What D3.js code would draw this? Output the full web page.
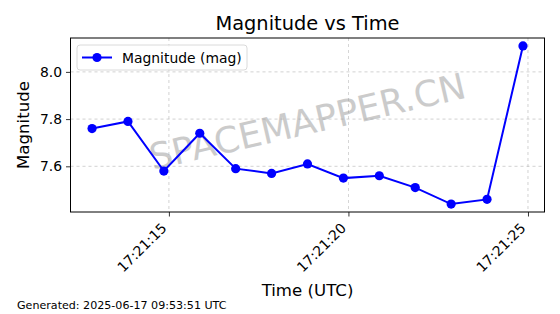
<!doctype html>
<html>
<head>
<meta charset="utf-8">
<title>Magnitude vs Time</title>
<style>
  body { margin: 0; background: #fff; }
  text { font-family: "DejaVu Sans", sans-serif; }
</style>
</head>
<body>
<script src="https://cdn.jsdelivr.net/npm/d3@7"></script>
<script>
// data
var times = ["17:21:12.86", "17:21:13.86", "17:21:14.86", "17:21:15.86", "17:21:16.86",
             "17:21:17.86", "17:21:18.86", "17:21:19.86", "17:21:20.86", "17:21:21.86",
             "17:21:22.86", "17:21:23.86", "17:21:24.86"];
var magnitudes = [7.76, 7.79, 7.58, 7.74, 7.59, 7.57, 7.61, 7.55, 7.56, 7.51, 7.44, 7.46, 8.11];
var yTicks = [7.6, 7.8, 8.0];
var xTicks = ["17:21:15", "17:21:20", "17:21:25"];

var w = 560, h = 314;
var margin = {top: 38, right: 15.5, bottom: 102, left: 70.5};

var parseTime = d3.utcParse("%H:%M:%S.%L");
var parseTick = d3.utcParse("%H:%M:%S");
var data = times.map(function(t, i) {
  return {t: parseTime(t + "0"), v: magnitudes[i]};
});

var svg = d3.select("body").append("svg")
  .attr("width", w)
  .attr("height", h);

// matplotlib style 5% margins
var tExt = d3.extent(data, function(d) { return +d.t; });
var tPad = (tExt[1] - tExt[0]) * 0.05;
var vExt = d3.extent(data, function(d) { return d.v; });
var vPad = (vExt[1] - vExt[0]) * 0.05;

var x = d3.scaleUtc()
  .domain([tExt[0] - tPad, tExt[1] + tPad])
  .range([margin.left, w - margin.right]);
var y = d3.scaleLinear()
  .domain([vExt[0] - vPad, vExt[1] + vPad])
  .range([h - margin.bottom, margin.top]);

var tickDates = xTicks.map(function(s) { return parseTick(s); });

// grid
var grid = svg.append("g");
grid.selectAll("line.gx")
  .data(tickDates)
  .enter().append("line")
  .attr("x1", function(d) { return x(d); })
  .attr("x2", function(d) { return x(d); })
  .attr("y1", margin.top)
  .attr("y2", h - margin.bottom)
  .attr("stroke", "#b0b0b0")
  .attr("stroke-width", 0.8)
  .attr("stroke-dasharray", "3,3")
  .attr("opacity", 0.7);
grid.selectAll("line.gy")
  .data(yTicks)
  .enter().append("line")
  .attr("x1", margin.left)
  .attr("x2", w - margin.right)
  .attr("y1", function(d) { return y(d); })
  .attr("y2", function(d) { return y(d); })
  .attr("stroke", "#b0b0b0")
  .attr("stroke-width", 0.8)
  .attr("stroke-dasharray", "3,3")
  .attr("opacity", 0.7);

// watermark
svg.append("text")
  .attr("transform", "translate(308,124) rotate(-13)")
  .attr("text-anchor", "middle")
  .attr("dominant-baseline", "middle")
  .style("font-size", "36px")
  .attr("fill", "#999")
  .attr("opacity", 0.5)
  .text("SPACEMAPPER.CN");

// line + markers
var line = d3.line()
  .x(function(d) { return x(d.t); })
  .y(function(d) { return y(d.v); });

svg.append("path")
  .datum(data)
  .attr("d", line)
  .attr("fill", "none")
  .attr("stroke", "#0000ff")
  .attr("stroke-width", 2);

svg.selectAll("circle.pt")
  .data(data)
  .enter().append("circle")
  .attr("cx", function(d) { return x(d.t); })
  .attr("cy", function(d) { return y(d.v); })
  .attr("r", 4.6)
  .attr("fill", "#0000ff");

// axes
var xAxis = svg.append("g")
  .attr("transform", "translate(0," + (h - margin.bottom) + ")")
  .call(d3.axisBottom(x).tickValues(tickDates).tickFormat(d3.utcFormat("%H:%M:%S")).tickSize(4.5));
xAxis.select(".domain").remove();
xAxis.selectAll("text")
  .style("font-size", "13.9px")
  .attr("fill", "#000")
  .attr("text-anchor", "end")
  .attr("x", 0).attr("y", 0).attr("dx", 0).attr("dy", 0)
  .attr("transform", "translate(-2,17) rotate(-45)");
xAxis.selectAll("line").attr("stroke", "#000").attr("stroke-width", 0.8);

var yAxis = svg.append("g")
  .attr("transform", "translate(" + margin.left + ",0)")
  .call(d3.axisLeft(y).tickValues(yTicks).tickFormat(d3.format(".1f")).tickSize(4.5).tickPadding(4));
yAxis.select(".domain").remove();
yAxis.selectAll("text").style("font-size", "13.9px").attr("fill", "#000");
yAxis.selectAll("line").attr("stroke", "#000").attr("stroke-width", 0.8);

// frame
svg.append("rect")
  .attr("x", margin.left)
  .attr("y", margin.top)
  .attr("width", w - margin.left - margin.right)
  .attr("height", h - margin.top - margin.bottom)
  .attr("fill", "none")
  .attr("stroke", "#000")
  .attr("stroke-width", 1);

// titles
svg.append("text")
  .attr("x", (margin.left + w - margin.right) / 2)
  .attr("y", 30)
  .attr("text-anchor", "middle")
  .style("font-size", "19.4px")
  .text("Magnitude vs Time");

svg.append("text")
  .attr("x", (margin.left + w - margin.right) / 2)
  .attr("y", 296)
  .attr("text-anchor", "middle")
  .style("font-size", "16.6px")
  .text("Time (UTC)");

svg.append("text")
  .attr("transform", "translate(29," + ((margin.top + h - margin.bottom) / 2) + ") rotate(-90)")
  .attr("text-anchor", "middle")
  .style("font-size", "16.6px")
  .text("Magnitude");

// legend
var legend = svg.append("g").attr("transform", "translate(77,45)");
legend.append("rect")
  .attr("width", 170)
  .attr("height", 25)
  .attr("rx", 3)
  .attr("fill", "#fff")
  .attr("fill-opacity", 0.8)
  .attr("stroke", "#d0d0d0")
  .attr("stroke-width", 0.8);
legend.append("line")
  .attr("x1", 5).attr("x2", 35)
  .attr("y1", 12.5).attr("y2", 12.5)
  .attr("stroke", "#0000ff")
  .attr("stroke-width", 2);
legend.append("circle")
  .attr("cx", 20).attr("cy", 12.5).attr("r", 4.6)
  .attr("fill", "#0000ff");
legend.append("text")
  .attr("x", 45).attr("y", 17.5)
  .style("font-size", "13.9px")
  .text("Magnitude (mag)");

// footer
svg.append("text")
  .attr("x", 17)
  .attr("y", 309)
  .style("font-size", "11.1px")
  .text("Generated: 2025-06-17 09:53:51 UTC");
</script>
</body>
</html>
